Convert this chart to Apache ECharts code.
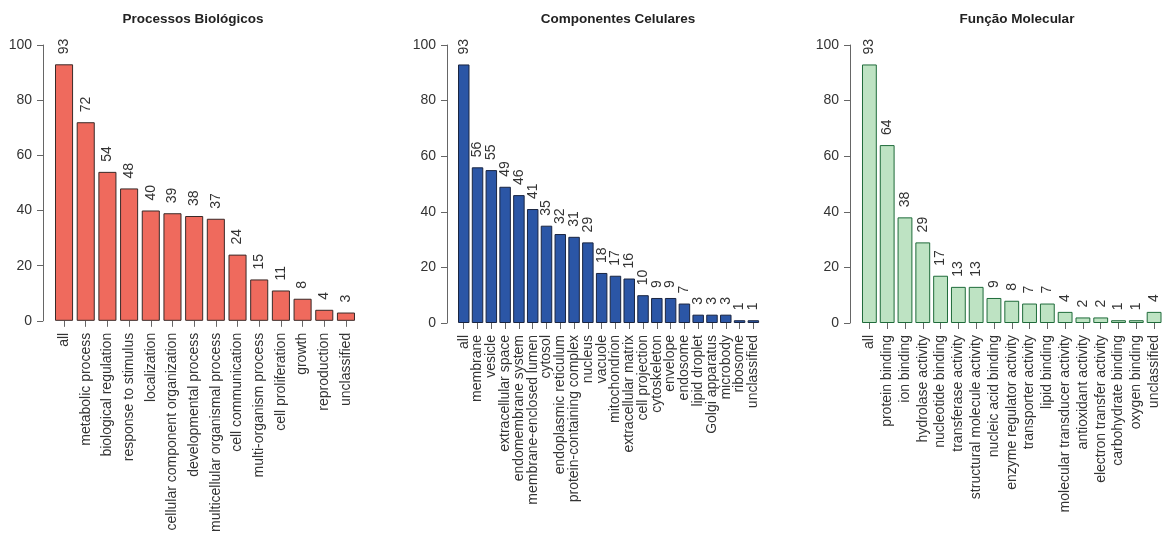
<!DOCTYPE html>
<html>
<head>
<meta charset="utf-8">
<script src="https://cdn.jsdelivr.net/npm/echarts@6/dist/echarts.min.js"></script>
<style>
html,body{margin:0;padding:0;background:#fff;}
#chart{width:1163px;height:535px;}
</style>
</head>
<body>
<div id="chart"></div>
<script>
const titles = ['Processos Biológicos', 'Componentes Celulares', 'Função Molecular'];

const bioCategories = ['all', 'metabolic process', 'biological regulation', 'response to stimulus', 'localization',
  'cellular component organization', 'developmental process', 'multicellular organismal process',
  'cell communication', 'multi-organism process', 'cell proliferation', 'growth', 'reproduction', 'unclassified'];
const bioValues = [93, 72, 54, 48, 40, 39, 38, 37, 24, 15, 11, 8, 4, 3];

const cellCategories = ['all', 'membrane', 'vesicle', 'extracellular space', 'endomembrane system',
  'membrane-enclosed lumen', 'cytosol', 'endoplasmic reticulum', 'protein-containing complex', 'nucleus',
  'vacuole', 'mitochondrion', 'extracellular matrix', 'cell projection', 'cytoskeleton', 'envelope',
  'endosome', 'lipid droplet', 'Golgi apparatus', 'microbody', 'ribosome', 'unclassified'];
const cellValues = [93, 56, 55, 49, 46, 41, 35, 32, 31, 29, 18, 17, 16, 10, 9, 9, 7, 3, 3, 3, 1, 1];

const molCategories = ['all', 'protein binding', 'ion binding', 'hydrolase activity', 'nucleotide binding',
  'transferase activity', 'structural molecule activity', 'nucleic acid binding', 'enzyme regulator activity',
  'transporter activity', 'lipid binding', 'molecular transducer activity', 'antioxidant activity',
  'electron transfer activity', 'carbohydrate binding', 'oxygen binding', 'unclassified'];
const molValues = [93, 64, 38, 29, 17, 13, 13, 9, 8, 7, 7, 4, 2, 2, 1, 1, 4];

const yTicks = [0, 20, 40, 60, 80, 100];

const panels = [
  {cats: bioCategories, vals: bioValues, fill: '#EF6A5D', border: '#3a2a28', left: 53.2, width: 303.6, axisX: 43, titleX: 193},
  {cats: cellCategories, vals: cellValues, fill: '#2B56A6', border: '#1a2540', left: 456.85, width: 303.4, axisX: 447, titleX: 618},
  {cats: molCategories, vals: molValues, fill: '#BEE3C3', border: '#1f6b3a', left: 860.5, width: 303.0, axisX: 850, titleX: 1017}
];

const FONT = 'Liberation Sans, Arial, sans-serif';
const grid = [], xAxis = [], yAxis = [], series = [], title = [];
panels.forEach((p, i) => {
  grid.push({left: p.left, top: 45, width: p.width, height: 278, containLabel: false});
  title.push({text: titles[i], left: p.titleX, top: 12, padding: 0, textAlign: 'center',
    textStyle: {fontFamily: FONT, fontWeight: 'bold', fontSize: 13.5, color: '#222'}});
  xAxis.push({type: 'category', gridIndex: i, data: p.cats,
    axisLine: {show: false},
    axisTick: {show: true, alignWithLabel: true, length: 6, lineStyle: {color: '#666'}},
    axisLabel: {interval: 0, rotate: 90, fontSize: 14, color: '#333', fontFamily: FONT, margin: 12}});
  yAxis.push({type: 'value', gridIndex: i, min: yTicks[0], max: yTicks[yTicks.length - 1], interval: 20,
    offset: p.left - p.axisX,
    splitLine: {show: false},
    axisLine: {show: true, lineStyle: {color: '#666'}},
    axisTick: {show: true, length: 6, lineStyle: {color: '#666'}},
    axisLabel: {fontSize: 14, color: '#333', fontFamily: FONT, margin: 11}});
  series.push({type: 'bar', xAxisIndex: i, yAxisIndex: i, data: p.vals,
    barCategoryGap: '16.7%',
    itemStyle: {color: p.fill, borderColor: p.border, borderWidth: 1},
    label: {show: true, position: 'top', distance: 10, rotate: 90, align: 'left', verticalAlign: 'middle',
      fontSize: 14, color: '#333', fontFamily: FONT}});
});

const chart = echarts.init(document.getElementById('chart'), null, {renderer: 'canvas'});
chart.setOption({animation: false, backgroundColor: '#fff', title, grid, xAxis, yAxis, series});
</script>
</body>
</html>
